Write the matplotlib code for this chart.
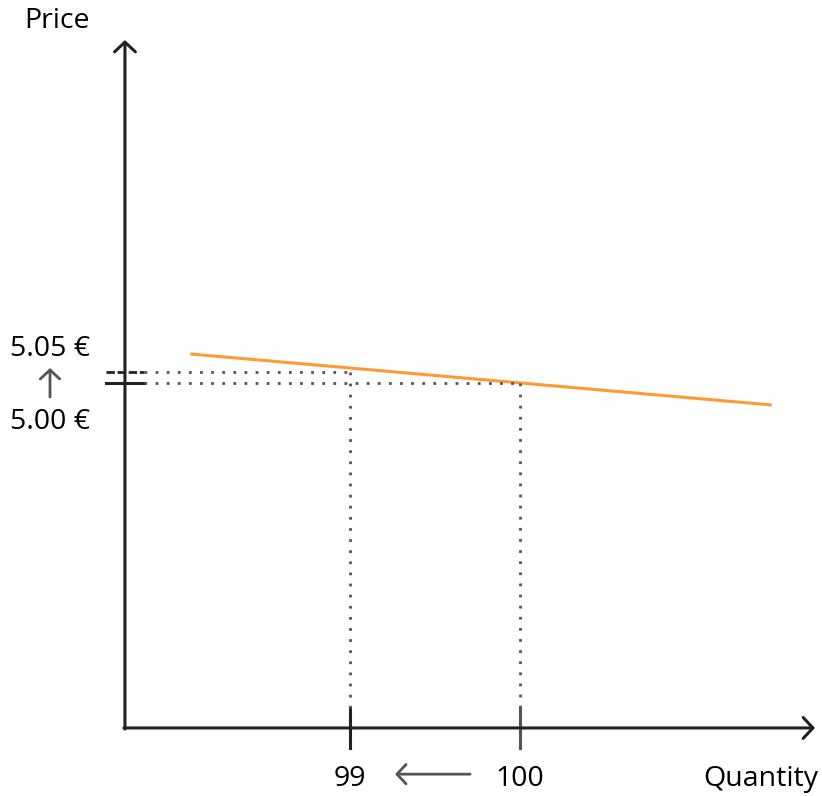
import matplotlib
matplotlib.use("Agg")
import matplotlib.pyplot as plt

# prices and quantities shown on the diagram
prices = [5.00, 5.05]
price_labels = ["5.00 €", "5.05 €"]
quantities = [100, 99]
qty_labels = ["100", "99"]

# demand curve end points (quantity, price)
demand_q = [98.06, 101.48]
demand_p = [5.132, 4.90]

# axis origin and extent
q0, q_end = 97.676, 101.735
p0, p_end = 3.432, 6.559

plt.rcParams['font.family'] = ['Open Sans', 'DejaVu Sans']

fig = plt.figure(figsize=(8.22, 7.96), dpi=100)
ax = fig.add_axes([0, 0, 1, 1])
ax.set_xlim(96.941, 101.776)
ax.set_ylim(3.1227, 6.741)
ax.axis('off')

dark = '#222222'
grey = '#555555'

head = '->,head_length=0.7,head_width=0.75'
# axes with arrows
ax.annotate('', xy=(q_end, p0), xytext=(q0 - 0.006, p0),
            arrowprops=dict(arrowstyle=head, color=dark, lw=2.2, shrinkA=0, shrinkB=0))
ax.annotate('', xy=(q0, p_end), xytext=(q0, p0 - 0.005),
            arrowprops=dict(arrowstyle=head, color=dark, lw=2.2, shrinkA=0, shrinkB=0))

# demand line
ax.plot(demand_q, demand_p, color='#ff9933', lw=2.2, solid_capstyle='butt')

dq = 0.1127
dp = 0.091
# ticks on price axis
ax.plot([q0 - dq, q0 + dq], [prices[0], prices[0]], color=dark, lw=2.2)
ax.plot([q0 - dq, q0 + dq], [prices[1], prices[1]], color=dark, lw=2.0, ls=(0, (3, 1)))
# ticks on quantity axis
ax.plot([quantities[1], quantities[1]], [p0 - dp, p0 + dp], color=dark, lw=2.2)
ax.plot([quantities[0], quantities[0]], [p0 - dp, p0 + dp], color=grey, lw=2.2)

# dotted guides
dots = dict(color=grey, lw=2.0, ls=(0, (1, 3)))
for q, p in zip(quantities, prices):
    ax.plot([q0 + dq, q], [p, p], **dots)
    ax.plot([q, q], [p, p0 + dp], **dots)

fs = 20.5
small = '->,head_length=0.65,head_width=0.7'
q_lab = 96.941 + 50 / 170
ax.text(q_lab, prices[1] + 0.104, price_labels[1], fontsize=fs, ha='center', va='center', color='black')
ax.text(q_lab, prices[0] - 0.175, price_labels[0], fontsize=fs, ha='center', va='center', color='black')
ax.annotate('', xy=(q_lab, 5.068), xytext=(q_lab, 4.936),
            arrowprops=dict(arrowstyle=small, color=grey, lw=2.0, shrinkA=0, shrinkB=0))

p_lab = p0 - 0.23
for q, lab in zip(quantities, qty_labels):
    ax.text(q, p_lab, lab, fontsize=fs, ha='center', va='center', color='black')
ax.annotate('', xy=(99.265, p_lab + 0.02), xytext=(99.706, p_lab + 0.02),
            arrowprops=dict(arrowstyle=small, color=grey, lw=2.0, shrinkA=0, shrinkB=0))

ax.text(96.941 + 57 / 170, 6.741 - 21 / 220, 'Price', fontsize=fs, ha='center', va='center')
ax.text(96.941 + 818 / 170, p_lab, 'Quantity', fontsize=fs, ha='right', va='center')

fig.savefig('out.png', dpi=100)
